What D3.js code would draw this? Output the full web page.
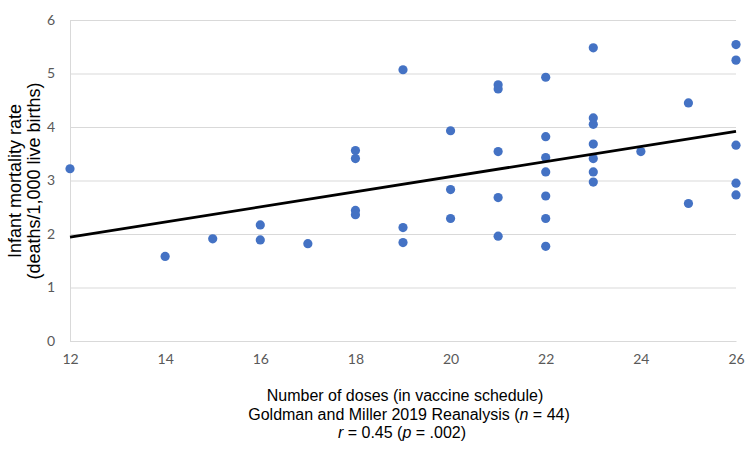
<!DOCTYPE html>
<html><head><meta charset="utf-8">
<script src="https://cdn.jsdelivr.net/npm/d3@7"></script>
<style>body{margin:0;background:#fff}</style>
</head><body>
<svg id="c" width="750" height="458"></svg>
<script>
const doses = [12,14,15,16,16,17,18,18,18,18,19,19,19,20,20,20,21,21,21,21,21,
  22,22,22,22,22,22,22,23,23,23,23,23,23,23,24,25,25,26,26,26,26,26];
const rates = [3.22,1.58,1.91,2.17,1.89,1.82,3.56,3.41,2.44,2.36,5.07,2.12,1.84,3.93,2.83,2.29,4.79,4.71,3.54,2.68,1.96,
  4.93,3.82,3.43,3.16,2.71,2.29,1.77,5.48,4.17,4.05,3.68,3.41,3.16,2.97,3.54,4.45,2.57,5.54,5.25,3.66,2.95,2.73];
const trendX = [12, 26];
const trendY = [1.94, 3.92];
const xTicks = [12,14,16,18,20,22,24,26];
const yTicks = [0,1,2,3,4,5,6];
const yLabel = ["Infant mortality rate", "(deaths/1,000 live births)"];

const svg = d3.select("#c");
const x = d3.scaleLinear().domain([12,26]).range([70,736]);
const y = d3.scaleLinear().domain([0,6]).range([341,20]);
const tickFont = "Lato, 'Open Sans', sans-serif";

// gridlines + y axis
const yAxis = d3.axisLeft(y).tickValues(yTicks).tickFormat(d3.format("d")).tickSize(-(736-70)).tickPadding(15);
const gy = svg.append("g").attr("transform","translate(70,0)").call(yAxis);
gy.select(".domain").attr("stroke","#d9d9d9");
gy.selectAll(".tick line").attr("stroke","#d9d9d9").attr("stroke-width",1);
gy.selectAll(".tick text").attr("fill","#595959").style("font-family",tickFont).style("font-size","14px");

const xAxis = d3.axisBottom(x).tickValues(xTicks).tickFormat(d3.format("d")).tickSize(0).tickPadding(13);
const gx = svg.append("g").attr("transform","translate(0,341)").call(xAxis);
gx.select(".domain").attr("stroke","#d9d9d9");
gx.selectAll(".tick text").attr("fill","#595959").style("font-family",tickFont).style("font-size","14px");

// points
svg.append("g").selectAll("circle").data(doses.map((d,i)=>[d,rates[i]])).join("circle")
  .attr("cx",d=>x(d[0])).attr("cy",d=>y(d[1])).attr("r",4.6).attr("fill","#4472C4");

// trend line
svg.append("path").datum(trendX.map((d,i)=>[d,trendY[i]]))
  .attr("d", d3.line().x(d=>x(d[0])).y(d=>y(d[1])))
  .attr("stroke","#000").attr("stroke-width",2.8).attr("fill","none");

// y label
const yl = svg.append("text").attr("transform","translate(0,181) rotate(-90)")
  .attr("text-anchor","middle").style("font-family","'Liberation Sans', Arial, sans-serif").style("font-size","18px").attr("fill","#000");
yl.append("tspan").attr("x",0).attr("y",21).text(yLabel[0]);
yl.append("tspan").attr("x",0).attr("y",40).text(yLabel[1]);

// x label
const xl = svg.append("text").attr("text-anchor","middle")
  .style("font-family","'Liberation Sans', Arial, sans-serif").style("font-size","16px").attr("fill","#000");
xl.append("tspan").attr("x",405).attr("y",401).text("Number of doses (in vaccine schedule)");
const l2 = xl.append("tspan").attr("x",409).attr("y",419.5);
l2.append("tspan").text("Goldman and Miller 2019 Reanalysis (");
l2.append("tspan").style("font-style","italic").text("n");
l2.append("tspan").text(" = 44)");
const l3 = xl.append("tspan").attr("x",402).attr("y",438);
l3.append("tspan").style("font-style","italic").text("r");
l3.append("tspan").text(" = 0.45 (");
l3.append("tspan").style("font-style","italic").text("p");
l3.append("tspan").text(" = .002)");
</script>
</body></html>
